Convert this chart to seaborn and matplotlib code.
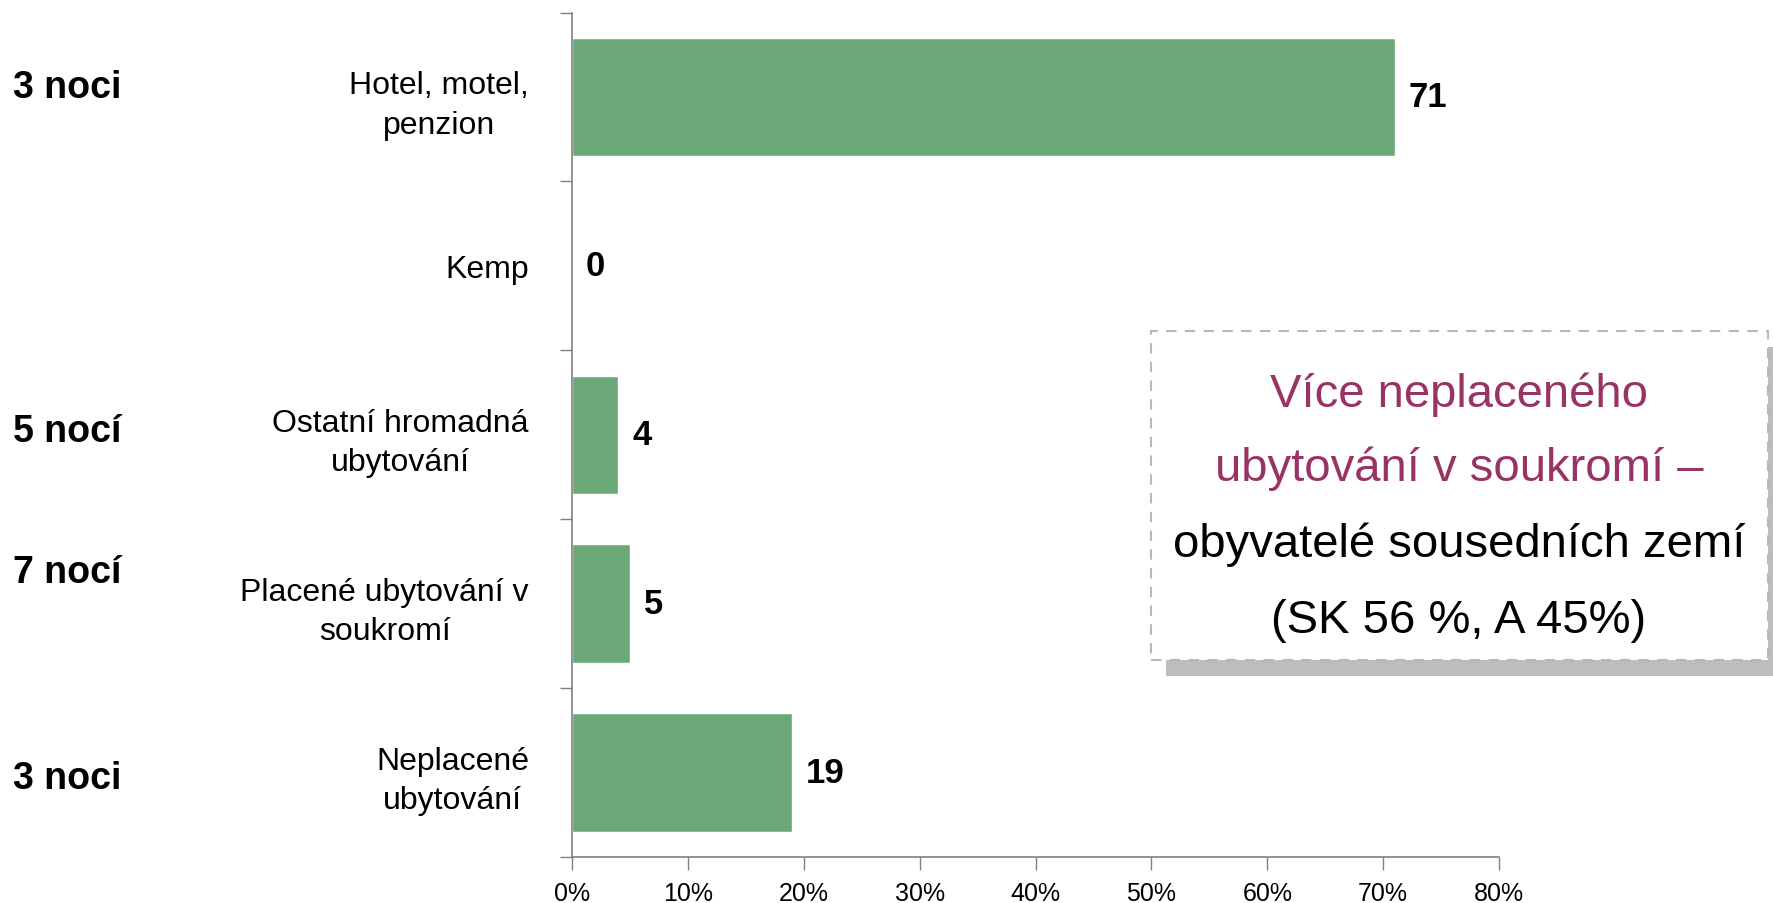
import matplotlib
matplotlib.use("Agg")
import matplotlib.pyplot as plt
from matplotlib.patches import Rectangle
import seaborn as sns
import pandas as pd

sns.set_theme(style="white")
plt.rcParams['font.family'] = ['Liberation Sans', 'DejaVu Sans']

# data
categories = ['Hotel, motel,\npenzion', 'Kemp', 'Ostatní hromadná\nubytování',
              'Placené ubytování v\nsoukromí', 'Neplacené\nubytování']
values = [71, 0, 4, 5, 19]
nights = ['3 noci', '', '5 nocí', '7 nocí', '3 noci']
box_lines = ['Více neplaceného', 'ubytování v soukromí –',
             'obyvatelé sousedních zemí', '(SK 56 %, A 45%)']
box_colors = ['#993366', '#993366', 'black', 'black']

df = pd.DataFrame({'kategorie': categories, 'podil': values})

fig = plt.figure(figsize=(17.73, 9.04), dpi=100)
ax = fig.add_axes([0.3226, 0.051, 0.8455 - 0.3226, 0.985 - 0.051])

sns.barplot(data=df, y='kategorie', x='podil', orient='h', color='#6aa878',
            saturation=1, width=0.7, ax=ax)

ax.set_xlim(0, 80)
ax.set_ylim(4.5, -0.5)
ax.set_xlabel('')
ax.set_ylabel('')
ax.set_xticks(range(0, 81, 10))
ax.set_xticklabels(['%d%%' % t for t in range(0, 81, 10)], fontsize=18)
ax.tick_params(axis='x', direction='out', length=9, width=1, color='#808080',
               pad=8, bottom=True)
ax.tick_params(axis='y', which='major', length=0, pad=31, labelsize=23)
ax.set_yticks([i - 0.5 for i in range(len(categories) + 1)], minor=True)
ax.tick_params(axis='y', which='minor', direction='out', length=9, width=1,
               color='#808080', left=True)
plt.setp(ax.get_yticklabels(), multialignment='center', color='black',
         linespacing=1.4)
plt.setp(ax.get_xticklabels(), color='black')

for s in ['top', 'right']:
    ax.spines[s].set_visible(False)
for s in ['left', 'bottom']:
    ax.spines[s].set_color('#808080')
    ax.spines[s].set_linewidth(1.2)

# value labels
for i, v in enumerate(values):
    ax.annotate('%d' % v, xy=(v, i), xytext=(10, 0), textcoords='offset points',
                ha='left', va='center', fontsize=25, fontweight='bold', color='black')

# number of nights on the far left
night_shift = [-0.06, 0, -0.02, -0.19, 0.03]
trans = matplotlib.transforms.blended_transform_factory(fig.transFigure, ax.transData)
for i, n in enumerate(nights):
    if n:
        ax.text(0.0075, i + night_shift[i], n, transform=trans, ha='left', va='center',
                fontsize=27, fontweight='bold', color='black')

# text box with shadow
bx0, by0, bx1, by1 = 1151 / 1773, 1 - 661 / 904, 1768 / 1773, 1 - 332 / 904
dx, dy = 15 / 1773, 16 / 904
fig.patches.append(Rectangle((bx0 + dx, by0 - dy), bx1 - bx0, by1 - by0,
                             transform=fig.transFigure, facecolor='#bdbdbd',
                             edgecolor='none', zorder=1))
fig.patches.append(Rectangle((bx0, by0), bx1 - bx0, by1 - by0,
                             transform=fig.transFigure, facecolor='white',
                             edgecolor='#b8b8b8', linestyle=(0, (5, 4)),
                             linewidth=1.5, zorder=2))
line_y = [395, 469, 545, 621]
for t, c, y in zip(box_lines, box_colors, line_y):
    fig.text(1459 / 1773, 1 - y / 904, t, ha='center', va='center',
             fontsize=34, color=c, zorder=3)

fig.savefig('out.png', dpi=100)
